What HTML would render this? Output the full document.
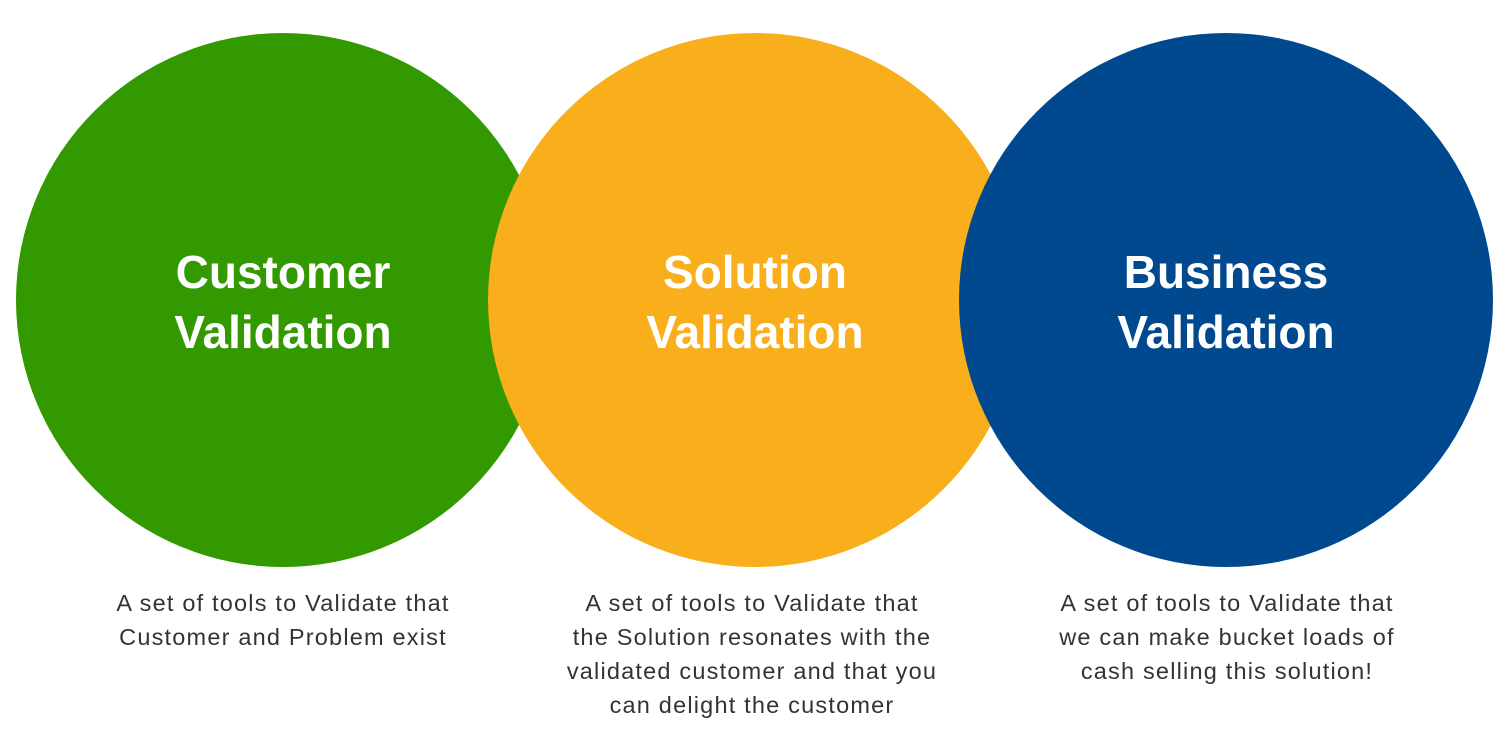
<!DOCTYPE html>
<html><head><meta charset="utf-8"><style>
body{margin:0;width:1512px;height:755px;background:#fff;position:relative;overflow:hidden;font-family:"Liberation Sans",sans-serif;}
.c{position:absolute;width:534px;height:534px;border-radius:50%;top:33px;}
.t{position:absolute;width:534px;top:242px;text-align:center;color:#fff;font-weight:bold;font-size:46px;line-height:60px;}
.d{position:absolute;width:500px;text-align:center;color:#333;font-size:23.5px;letter-spacing:1.2px;line-height:34px;top:586px;}
</style></head><body>
<div class="c" style="left:16px;background:#339900"></div>
<div class="c" style="left:488px;background:#F9AE1C"></div>
<div class="c" style="left:959px;background:#00498F"></div>
<div class="t" style="left:16px">Customer<br>Validation</div>
<div class="t" style="left:488px">Solution<br>Validation</div>
<div class="t" style="left:959px">Business<br>Validation</div>
<div class="d" style="left:33px">A set of tools to Validate that<br>Customer and Problem exist</div>
<div class="d" style="left:502px">A set of tools to Validate that<br>the Solution resonates with the<br>validated customer and that you<br>can delight the customer</div>
<div class="d" style="left:977px">A set of tools to Validate that<br>we can make bucket loads of<br>cash selling this solution!</div>
</body></html>
